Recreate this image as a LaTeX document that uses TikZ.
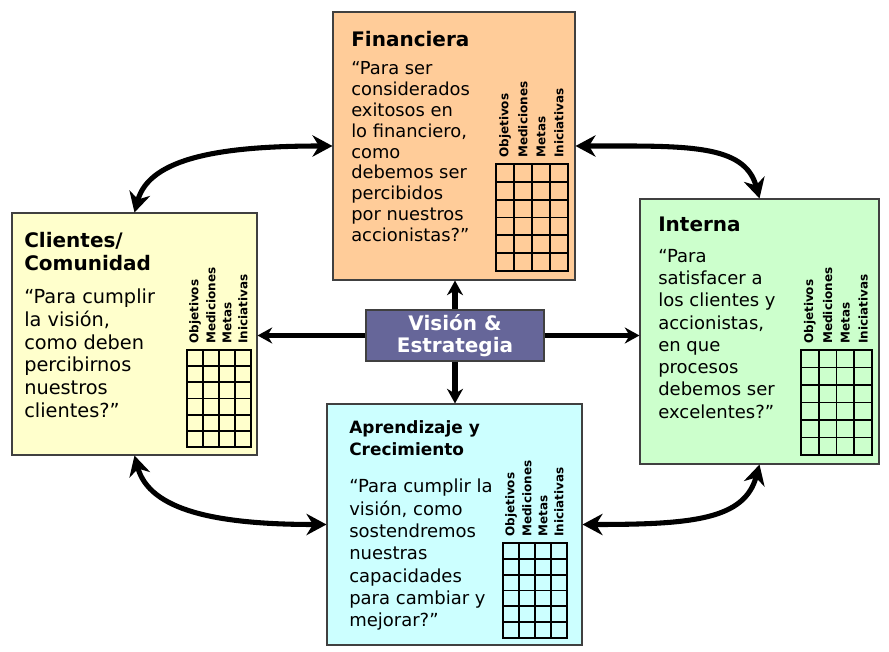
\documentclass[tikz,border=0pt]{standalone}
\usepackage{fontspec}
\setmainfont{DejaVu Sans}
\usetikzlibrary{arrows.meta}

\definecolor{finan}{HTML}{FFCC99}
\definecolor{clien}{HTML}{FFFFCC}
\definecolor{inter}{HTML}{CCFFCC}
\definecolor{apren}{HTML}{CCFFFF}
\definecolor{vision}{HTML}{666699}

\tikzset{
	caja/.style={draw=black!75, line width=0.8pt, inner sep=0pt},
	titulo/.style={font=\bfseries\fontsize{15}{17}\selectfont, anchor=north west, align=left, inner sep=0pt},
	texto/.style={font=\fontsize{13.5}{16.7}\selectfont, anchor=north west, align=left, inner sep=0pt},
	etiq/.style={font=\bfseries\fontsize{9}{9}\selectfont, rotate=90, anchor=west, inner sep=0pt},
	flecha/.style={line width=3.8pt, {Stealth[length=15pt,width=16pt]}-{Stealth[length=15pt,width=16pt]}},
	flechita/.style={line width=3.8pt, -{Stealth[length=11pt,width=12pt]}}
}

% tabla: x, y (esquina sup. izq.), ancho, alto
\newcommand{\tabla}[4]{%
	\foreach \i in {1,2,3}
		\draw[line width=1.4pt] (#1+#3/4*\i,#2) -- (#1+#3/4*\i,#2+#4);
	\foreach \j in {1,...,5}
		\draw[line width=1.4pt] (#1,#2+#4/6*\j) -- (#1+#3,#2+#4/6*\j);
	\draw[line width=1.4pt, fill=none] (#1,#2) rectangle (#1+#3,#2+#4);
	\foreach \etiqueta [count=\k] in {Objetivos,Mediciones,Metas,Iniciativas}
		\node[etiq] at (#1+#3/8*\k*2-#3/8,#2-6) {\etiqueta};
}

\begin{document}
\begin{tikzpicture}[x=0.75pt, y=-0.75pt]
	\useasboundingbox (0,0) rectangle (889,652);

	\node[caja, fill=finan, minimum width=242*0.75pt, minimum height=268*0.75pt] (fin) at (454,146) {};
	\node[caja, fill=clien, minimum width=245*0.75pt, minimum height=242*0.75pt] (cli) at (134.5,334) {};
	\node[caja, fill=inter, minimum width=239*0.75pt, minimum height=265*0.75pt] (int) at (759.5,331.5) {};
	\node[caja, fill=apren, minimum width=255*0.75pt, minimum height=241*0.75pt] (apr) at (454.5,524.5) {};
	\node[caja, fill=vision, minimum width=178*0.75pt, minimum height=51*0.75pt] (vis) at (455,335.5) {};
	\node[font=\bfseries\fontsize{15}{17}\selectfont, text=white, align=center] (visT) at (455,335.5) {Visión \&\\Estrategia};

	% textos
	\node[titulo] (finT) at (351,31) {Financiera};
	\node[texto, font=\fontsize{13.4}{15.7}\selectfont] (finX) at (351,61) {“Para ser\\considerados\\exitosos en\\lo financiero,\\como\\debemos ser\\percibidos\\por nuestros\\accionistas?”};
	\node[titulo] (cliT) at (24,232) {Clientes/\\Comunidad};
	\node[texto, font=\fontsize{14.5}{17}\selectfont] (cliX) at (24,289) {“Para cumplir\\la visión,\\como deben\\percibirnos\\nuestros\\clientes?”};
	\node[titulo] (intT) at (658,217) {Interna};
	\node[texto] (intX) at (658,249) {“Para\\satisfacer a\\los clientes y\\accionistas,\\en que\\procesos\\debemos ser\\excelentes?”};
	\node[titulo, font=\bfseries\fontsize{12.7}{16.5}\selectfont] (aprT) at (349,420) {Aprendizaje y\\Crecimiento};
	\node[texto] (aprX) at (349,479) {“Para cumplir la\\visión, como\\sostendremos\\nuestras\\capacidades\\para cambiar y\\mejorar?”};

	% tablas
	\tabla{496}{164}{72}{107}
	\tabla{187}{350}{64}{97}
	\tabla{801}{350}{71}{105}
	\tabla{503}{543}{64}{95}

	% flechas
	\draw[flechita] (vis.north) -- (vis.north |- fin.south);
	\draw[flechita] (vis.south) -- (vis.south |- apr.north);
	\draw[flechita] (vis.west) -- (vis.west -| cli.east);
	\draw[flechita] (vis.east) -- (vis.east -| int.west);

	\draw[flecha] (cli.north) .. controls +(15,-55) and +(-110,0) .. (fin.west);
	\draw[flecha] (fin.east) .. controls +(110,0) and +(-15,-55) .. (int.north);
	\draw[flecha] (cli.south) .. controls +(15,55) and +(-110,0) .. (apr.west);
	\draw[flecha] (apr.east) .. controls +(110,0) and +(-15,55) .. (int.south);
\end{tikzpicture}
\end{document}
